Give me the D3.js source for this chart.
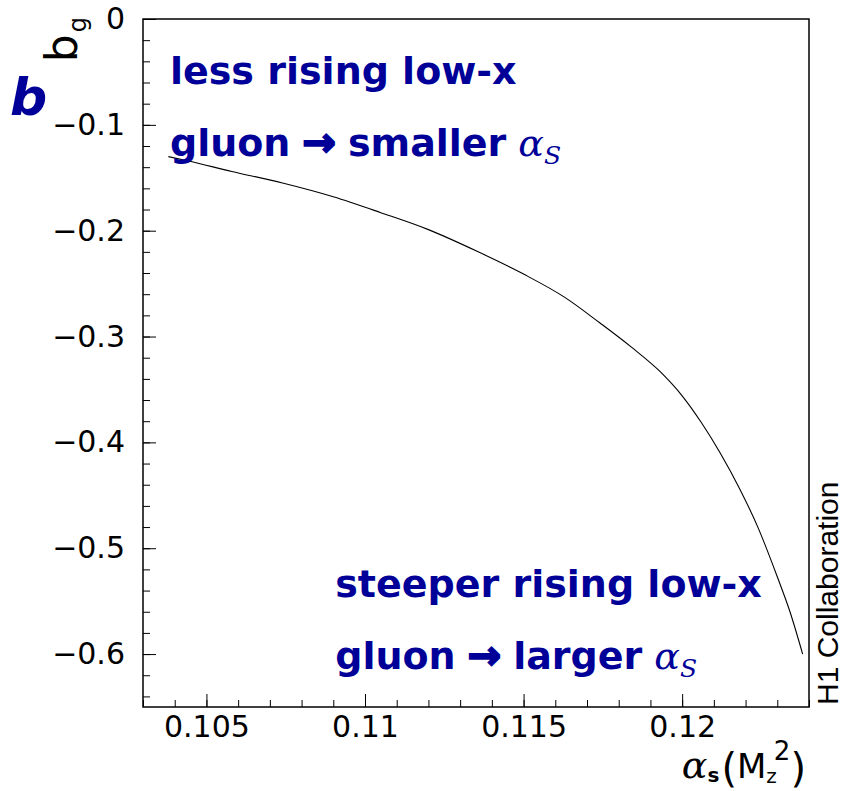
<!DOCTYPE html>
<html>
<head>
<meta charset="utf-8">
<script src="https://cdn.jsdelivr.net/npm/d3@7"></script>
<style>
  body { margin: 0; background: #fff; }
  svg { display: block; }
</style>
</head>
<body>
<svg id="chart"></svg>
<script>
// curve: alpha_s(MZ^2) vs b_g
const alphaS = [0.1038, 0.1044, 0.1058, 0.1074, 0.1090, 0.1105, 0.1120, 0.1135, 0.1150, 0.1163, 0.1174, 0.1184, 0.1193, 0.1200, 0.1206, 0.1212, 0.1218, 0.1224, 0.1230, 0.1234, 0.1238];
const bG     = [-0.130, -0.134, -0.144, -0.155, -0.168, -0.183, -0.199, -0.219, -0.241, -0.263, -0.287, -0.310, -0.333, -0.356, -0.381, -0.410, -0.443, -0.481, -0.527, -0.560, -0.600];

const xTickValues = [0.105, 0.11, 0.115, 0.12];
const yTickValues = [0, -0.1, -0.2, -0.3, -0.4, -0.5, -0.6];
const xDomain = [0.103, 0.124];
const yDomain = [-0.65, 0];

const topNote = ["less rising low-x", "gluon"];
const topNoteEnd = "smaller";
const bottomNote = ["steeper rising low-x", "gluon"];
const bottomNoteEnd = "larger";

const width = 846, height = 791;
const margin = { top: 19, right: 37, bottom: 84, left: 143 };
const blue = "#000099";

const svg = d3.select("#chart")
    .attr("width", width)
    .attr("height", height)
    .style("background-color", "white");

const xScale = d3.scaleLinear()
    .domain(xDomain)
    .range([margin.left, width - margin.right]);

const yScale = d3.scaleLinear()
    .domain(yDomain)
    .range([height - margin.bottom, margin.top]);

// minor ticks
svg.append("g")
    .attr("transform", "translate(0," + (height - margin.bottom) + ")")
    .call(d3.axisBottom(xScale).tickValues(xScale.ticks(21)).tickSize(-7).tickFormat(""))
    .call(g => g.select(".domain").remove());

svg.append("g")
    .attr("transform", "translate(" + margin.left + ",0)")
    .call(d3.axisLeft(yScale).tickValues(yScale.ticks(30)).tickSize(-7).tickFormat(""))
    .call(g => g.select(".domain").remove());

// major ticks + labels
svg.append("g")
    .attr("transform", "translate(0," + (height - margin.bottom) + ")")
    .call(d3.axisBottom(xScale).tickValues(xTickValues).tickSize(-13).tickPadding(9).tickFormat(d3.format("")))
    .call(g => g.select(".domain").remove())
    .selectAll("text")
    .style("font-family", "DejaVu Sans")
    .style("font-size", "30px")
    .attr("fill", "black");

svg.append("g")
    .attr("transform", "translate(" + margin.left + ",0)")
    .call(d3.axisLeft(yScale).tickValues(yTickValues).tickSize(-13).tickPadding(18).tickFormat(d => d === 0 ? "0" : d3.format("")(d)))
    .call(g => g.select(".domain").remove())
    .selectAll("text")
    .style("font-family", "DejaVu Sans")
    .style("font-size", "30px")
    .attr("fill", "black");

// frame
svg.append("rect")
    .attr("x", margin.left)
    .attr("y", margin.top)
    .attr("width", width - margin.left - margin.right)
    .attr("height", height - margin.top - margin.bottom)
    .attr("fill", "none")
    .attr("stroke", "black")
    .attr("stroke-width", 1.5);

// curve
const line = d3.line()
    .x((d, i) => xScale(alphaS[i]))
    .y(d => yScale(d))
    .curve(d3.curveMonotoneX);

svg.append("path")
    .datum(bG)
    .attr("fill", "none")
    .attr("stroke", "black")
    .attr("stroke-width", 1.1)
    .attr("d", line);

// blue notes
function note(lines, endWord, x0, y0, y1) {
    lines.forEach((txt, i) => {
        const t = svg.append("text")
            .attr("x", xScale(x0))
            .attr("y", yScale(i == 0 ? y0 : y1))
            .attr("fill", blue)
            .style("font-family", "DejaVu Sans")
            .style("font-weight", "bold")
            .style("font-size", "38px");
        t.append("tspan").text(txt);
        if (i == 1) {
            t.append("tspan")
                .attr("dx", 12)
                .attr("stroke", blue)
                .attr("stroke-width", 2)
                .style("font-size", "40px")
                .text("\u2192");
            t.append("tspan")
                .attr("dx", 12)
                .text(endWord);
            t.append("tspan")
                .attr("dx", 12)
                .style("font-family", "DejaVu Serif")
                .style("font-style", "italic")
                .style("font-weight", "normal")
                .style("font-size", "38px")
                .text("\u03b1");
            t.append("tspan")
                .attr("dy", 8)
                .style("font-family", "DejaVu Serif")
                .style("font-style", "italic")
                .style("font-weight", "normal")
                .style("font-size", "25px")
                .text("S");
        }
    });
}
note(topNote, topNoteEnd, 0.10385, -0.0612, -0.1293);
note(bottomNote, bottomNoteEnd, 0.10906, -0.5465, -0.6137);

// big blue b
svg.append("text")
    .attr("x", 10)
    .attr("y", 115)
    .attr("fill", blue)
    .style("font-family", "DejaVu Sans")
    .style("font-weight", "bold")
    .style("font-style", "italic")
    .style("font-size", "52px")
    .text("b");

// y title b_g
const yTitle = svg.append("text")
    .attr("transform", "translate(77,17) rotate(-90)")
    .attr("text-anchor", "end")
    .style("font-family", "DejaVu Sans")
    .style("font-size", "44px");
yTitle.append("tspan").text("b");
yTitle.append("tspan").attr("dx", 2).attr("dy", 9).style("font-size", "24px").text("g");

// x title alpha_s(M_z^2)
const xTitle = svg.append("text")
    .attr("x", 806)
    .attr("y", 778)
    .attr("text-anchor", "end")
    .style("font-family", "DejaVu Sans")
    .style("font-size", "34px");
xTitle.append("tspan").style("font-family", "DejaVu Serif").style("font-style", "italic").style("font-size", "38px").text("\u03b1");
xTitle.append("tspan").attr("dy", 4).style("font-size", "20px").style("font-weight", "bold").text("s");
xTitle.append("tspan").attr("dx", 2).attr("dy", 0).style("font-size", "40px").text("(");
xTitle.append("tspan").attr("dy", -4).text("M");
xTitle.append("tspan").attr("dy", 5).style("font-size", "20px").text("z");
xTitle.append("tspan").attr("dx", -3).attr("dy", -23).style("font-size", "26px").text("2");
xTitle.append("tspan").attr("dy", 22).style("font-size", "40px").text(")");

// collaboration label
svg.append("text")
    .attr("transform", "translate(838,705) rotate(-90)")
    .style("font-family", "Liberation Sans")
    .style("font-size", "30px")
    .text("H1 Collaboration");
</script>
</body>
</html>
